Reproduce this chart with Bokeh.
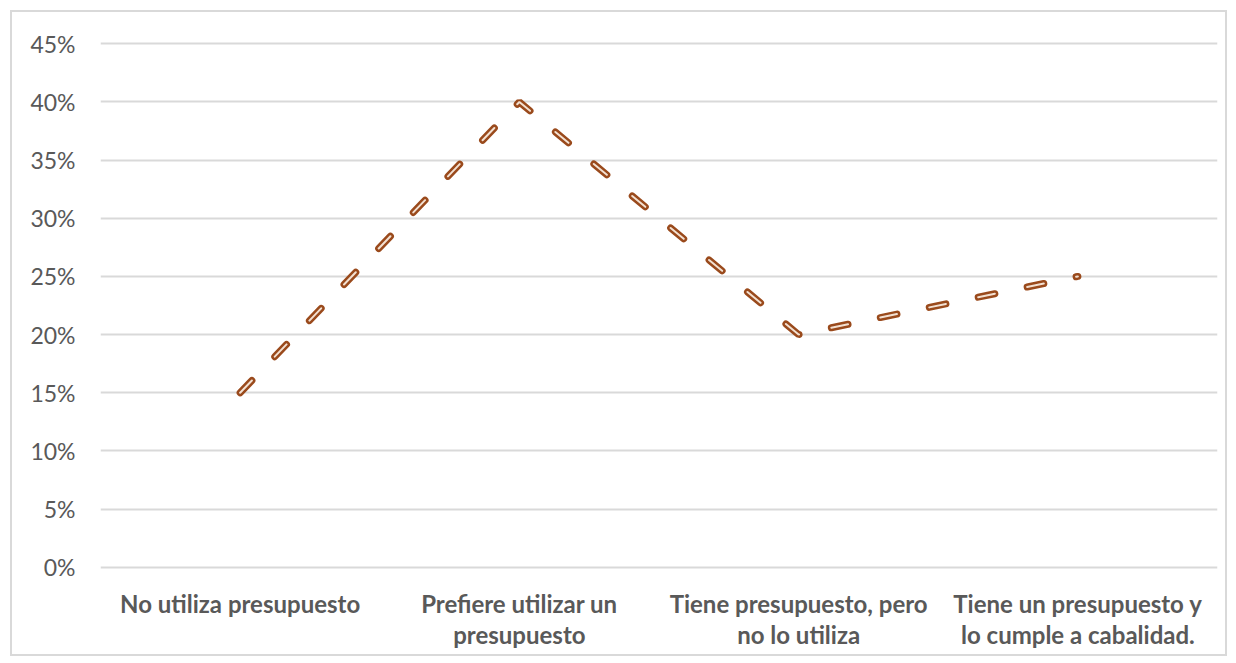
from bokeh.plotting import figure
from bokeh.models import NumeralTickFormatter, FixedTicker
from bokeh.embed import file_html
from bokeh.resources import INLINE

categories = ["No utiliza presupuesto",
              "Prefiere utilizar un\npresupuesto",
              "Tiene presupuesto, pero\nno lo utiliza",
              "Tiene un presupuesto y\nlo cumple a cabalidad."]
values = [0.15, 0.40, 0.20, 0.25]
y_ticks = [0, 0.05, 0.10, 0.15, 0.20, 0.25, 0.30, 0.35, 0.40, 0.45]

p = figure(width=1217, height=646, x_range=categories, y_range=(-0.002, 0.452),
           output_backend="svg", toolbar_location=None,
           min_border_left=88, min_border_right=12, min_border_top=29, min_border_bottom=89)
p.x_range.range_padding = 0
p.outline_line_color = None
p.styles = {"border": "2px solid #d9d9d9", "box-sizing": "border-box",
            "margin-left": "10px", "margin-top": "10px"}

p.line(categories, values, line_color="#9a4a1c", line_width=7, line_dash="17 33", line_cap="round")
p.line(categories, values, line_color="#f3e1d2", line_width=2, line_dash="17 33", line_cap="round")

p.yaxis.ticker = FixedTicker(ticks=y_ticks)
p.yaxis.formatter = NumeralTickFormatter(format="0%")
for ax in (p.xaxis, p.yaxis):
    ax.axis_line_color = None
    ax.major_tick_line_color = None
    ax.minor_tick_line_color = None
    ax.major_label_text_color = "#595959"
    ax.major_label_text_font = "Lato"
    ax.major_label_text_font_size = "23px"
p.yaxis.major_label_standoff = 19
p.xaxis.major_label_standoff = 13
p.xaxis.major_label_text_font_size = "24px"
p.xaxis.major_label_text_font_style = "bold"
p.xaxis.major_label_text_line_height = 1.1
p.xgrid.grid_line_color = None
p.ygrid.grid_line_color = "#d9d9d9"
p.ygrid.grid_line_width = 2

open("out.html", "w").write(file_html(p, INLINE))
